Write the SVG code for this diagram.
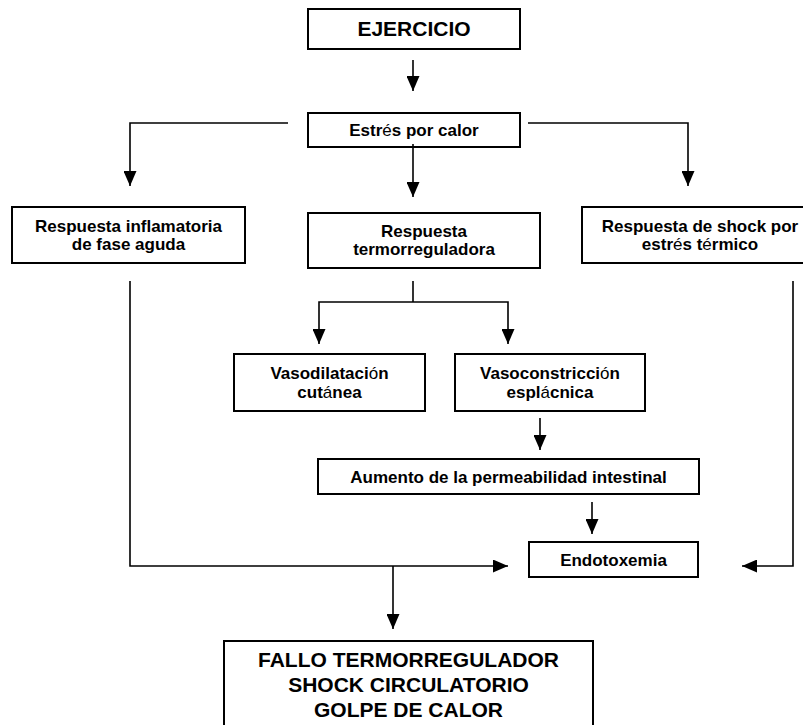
<svg xmlns="http://www.w3.org/2000/svg" width="803" height="725" viewBox="0 0 803 725">
<style>
.box{fill:#fff;stroke:#000;stroke-width:2}
.t{font-family:"Liberation Sans",Arial,sans-serif;font-weight:bold;font-size:17px;fill:#000;text-anchor:middle}
.big{font-size:21px}
.acc{font-weight:normal}
.c{fill:none;stroke:#000;stroke-width:1.6}
</style>
<defs>
<marker id="ah" viewBox="0 0 15 13" refX="15" refY="6.5" markerWidth="15" markerHeight="13" markerUnits="userSpaceOnUse" orient="auto">
<path d="M0,0 L15,6.5 L0,13 z" fill="#000"/>
</marker>
</defs>
<rect width="803" height="725" fill="#fff"/>
<g id="connectors">
<path class="c" d="M413,60 V91" marker-end="url(#ah)"/>
<path class="c" d="M288,123 H130 V186" marker-end="url(#ah)"/>
<path class="c" d="M528,123 H688 V186" marker-end="url(#ah)"/>
<path class="c" d="M413,144 V197" marker-end="url(#ah)"/>
<path class="c" d="M130,281 V566 H508" marker-end="url(#ah)"/>
<path class="c" d="M793,281 V566 H742" marker-end="url(#ah)"/>
<path class="c" d="M413,281 V302"/>
<path class="c" d="M413,302 H319 V344" marker-end="url(#ah)"/>
<path class="c" d="M413,302 H508 V344" marker-end="url(#ah)"/>
<path class="c" d="M540,418 V450" marker-end="url(#ah)"/>
<path class="c" d="M592,502 V534" marker-end="url(#ah)"/>
<path class="c" d="M393,566 V629" marker-end="url(#ah)"/>
</g>
<g id="ejercicio">
<rect class="box" x="308" y="9" width="212" height="40"/>
<text class="t big" x="414" y="36">EJERCICIO</text>
</g>
<g id="estres">
<rect class="box" x="308" y="113" width="212" height="34"/>
<text class="t" x="414" y="136">Estr<tspan class="acc">é</tspan>s por calor</text>
</g>
<path class="c" d="M413,144 V147"/>
<g id="inflamatoria">
<rect class="box" x="12" y="207" width="233" height="56"/>
<text class="t" x="128.5" y="232">Respuesta inflamatoria</text>
<text class="t" x="128.5" y="250">de fase aguda</text>
</g>
<g id="termorreguladora">
<rect class="box" x="308" y="213" width="232" height="55"/>
<text class="t" x="424" y="237">Respuesta</text>
<text class="t" x="424" y="255">termorreguladora</text>
</g>
<g id="shock">
<rect class="box" x="582" y="207" width="236" height="56"/>
<text class="t" x="700" y="232">Respuesta de shock por</text>
<text class="t" x="700" y="250">estr<tspan class="acc">é</tspan>s t<tspan class="acc">é</tspan>rmico</text>
</g>
<g id="vasodilatacion">
<rect class="box" x="234" y="354" width="191" height="57"/>
<text class="t" x="329.5" y="379">Vasodilataci<tspan class="acc">ó</tspan>n</text>
<text class="t" x="329.5" y="398">cut<tspan class="acc">á</tspan>nea</text>
</g>
<g id="vasoconstriccion">
<rect class="box" x="455" y="354" width="190" height="57"/>
<text class="t" x="550" y="379">Vasoconstricci<tspan class="acc">ó</tspan>n</text>
<text class="t" x="550" y="398">espl<tspan class="acc">á</tspan>cnica</text>
</g>
<g id="permeabilidad">
<rect class="box" x="318" y="459" width="381" height="35"/>
<text class="t" x="508.5" y="483">Aumento de la permeabilidad intestinal</text>
</g>
<g id="endotoxemia">
<rect class="box" x="529" y="542" width="169" height="35"/>
<text class="t" x="613.5" y="566">Endotoxemia</text>
</g>
<g id="fallo">
<rect class="box" x="224" y="641" width="369" height="110"/>
<text class="t big" x="408.5" y="667">FALLO TERMORREGULADOR</text>
<text class="t big" x="408.5" y="692">SHOCK CIRCULATORIO</text>
<text class="t big" x="408.5" y="717">GOLPE DE CALOR</text>
</g>
</svg>
